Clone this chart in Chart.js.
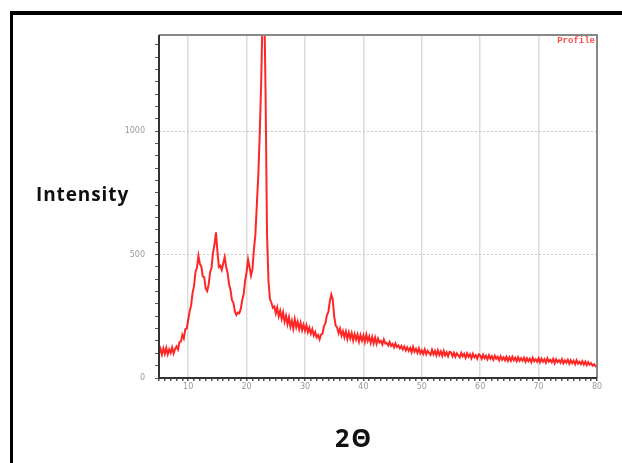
<!DOCTYPE html>
<html>
<head>
<meta charset="utf-8">
<script src="https://cdn.jsdelivr.net/npm/chart.js@4/dist/chart.umd.min.js"></script>
<style>
  html, body { margin: 0; padding: 0; background: #fff; }
  #wrap { position: relative; width: 622px; height: 463px; overflow: hidden; }
  #frame { position: absolute; left: 10px; top: 11px; width: 640px; height: 500px;
           border-left: 3px solid #000; border-top: 4px solid #000; }
  #chart { position: absolute; left: 0; top: 0; }
  .lbl { position: absolute; font-family: "Open Sans", sans-serif; font-weight: 700; color: #111; }
  #ylab { left: 36px; top: 181px; font-size: 19px; letter-spacing: 0.9px; }
  #xlab { left: 335px; top: 420px; font-size: 25px; letter-spacing: 2px; }
</style>
</head>
<body>
<div id="wrap">
  <div id="frame"></div>
  <canvas id="chart" width="622" height="463"></canvas>
  <div class="lbl" id="ylab">Intensity</div>
  <div class="lbl" id="xlab">2Θ</div>
</div>
<script>
// XRD profile, 2-theta sampled every 0.25 deg from 5 to 80
const angleStart = 5;
const angleStep = 0.25;
const seriesName = 'Profile';
const xTickLabels = [10, 20, 30, 40, 50, 60, 70, 80];
const yTickLabels = [0, 500, 1000];

const intensity = [
  // 5.00 - 9.75
  100, 118, 95, 120, 98, 122, 96, 116, 102, 124, 100, 118, 128, 115, 145, 148, 175, 160, 198, 200,
  // 10.00 - 14.75
  235, 270, 295, 345, 372, 430, 448, 495, 462, 452, 412, 408, 362, 352, 378, 428, 448, 508, 540, 590,
  // 15.00 - 19.75
  515, 450, 455, 438, 465, 490, 450, 425, 380, 356, 315, 305, 270, 255, 265, 262, 280, 315, 340, 395,
  // 20.00 - 24.75
  430, 480, 450, 415, 440, 520, 580, 700, 820, 990, 1200, 1500, 1560, 1150, 580, 390, 320, 305, 285, 290,
  // 25.00 - 29.75
  262, 285, 250, 272, 240, 266, 228, 252, 218, 246, 208, 232, 200, 238, 206, 228, 198, 224, 194, 216,
  // 30.00 - 34.75
  192, 214, 186, 204, 180, 198, 172, 186, 165, 174, 156, 176, 180, 210, 222, 255, 268, 310, 338, 318,
  // 35.00 - 39.75
  250, 212, 205, 182, 200, 172, 190, 165, 188, 158, 184, 160, 182, 152, 178, 156, 176, 148, 174, 152,
  // 40.00 - 44.75
  172, 146, 176, 150, 168, 142, 166, 140, 164, 138, 160, 144, 150, 136, 156, 140, 142, 132, 146, 130,
  // 45.00 - 49.75
  138, 124, 140, 126, 132, 120, 130, 116, 128, 112, 124, 110, 122, 104, 126, 106, 118, 102, 120, 100,
  // 50.00 - 54.75
  112, 98, 116, 96, 110, 102, 94, 114, 96, 110, 92, 112, 94, 108, 90, 110, 92, 104, 88, 106,
  // 55.00 - 59.75
  104, 88, 102, 86, 100, 92, 84, 102, 88, 98, 82, 100, 86, 96, 80, 98, 84, 92, 78, 96,
  // 60.00 - 64.75
  92, 78, 94, 80, 90, 76, 92, 78, 88, 74, 90, 78, 86, 72, 88, 74, 84, 72, 86, 70,
  // 65.00 - 69.75
  84, 70, 86, 72, 82, 68, 84, 70, 80, 70, 82, 66, 80, 68, 78, 64, 82, 68, 76, 66,
  // 70.00 - 74.75
  80, 64, 78, 66, 76, 62, 80, 66, 74, 64, 78, 60, 76, 64, 72, 62, 76, 60, 72, 62,
  // 75.00 - 79.75
  74, 58, 72, 60, 70, 56, 72, 58, 66, 56, 68, 54, 66, 52, 64, 54, 60, 50, 56, 48,
  // 80.00
  44
];

const points = intensity.map((v, i) => ({ x: angleStart + i * angleStep, y: v }));

// plot frame: grey top/right, dark left/bottom axes
const framePlugin = {
  id: 'frame',
  afterDraw(chart) {
    const { ctx, chartArea: a } = chart;
    ctx.save();
    ctx.lineWidth = 2;
    ctx.strokeStyle = '#888';
    ctx.beginPath();
    ctx.moveTo(a.left, a.top);
    ctx.lineTo(a.right, a.top);
    ctx.lineTo(a.right, a.bottom);
    ctx.stroke();
    ctx.strokeStyle = '#333';
    ctx.beginPath();
    ctx.moveTo(a.left, a.top);
    ctx.lineTo(a.left, a.bottom);
    ctx.lineTo(a.right, a.bottom);
    ctx.stroke();
    // legend tag
    ctx.fillStyle = '#ff4a4a';
    ctx.font = 'bold 9px "Liberation Mono", monospace';
    ctx.textAlign = 'right';
    ctx.textBaseline = 'middle';
    ctx.fillText(seriesName, a.right - 2, a.top + 6);
    ctx.restore();
  }
};

const tickFont = { family: '"DejaVu Sans", sans-serif', size: 8 };

new Chart(document.getElementById('chart'), {
  type: 'line',
  data: {
    datasets: [{
      label: seriesName,
      data: points,
      borderColor: 'rgba(255, 0, 0, 0.85)',
      borderWidth: 2,
      pointRadius: 0,
      tension: 0
    }]
  },
  options: {
    responsive: false,
    animation: false,
    layout: { padding: { left: 0, top: 35, right: 25, bottom: 65 } },
    plugins: { legend: { display: false }, tooltip: { enabled: false } },
    scales: {
      x: {
        type: 'linear',
        min: 5,
        max: 80,
        afterFit(scale) { scale.height = 20; },
        afterBuildTicks(scale) {
          const t = [];
          for (let v = 5; v <= 80; v++) t.push({ value: v });
          scale.ticks = t;
        },
        ticks: {
          autoSkip: false,
          maxRotation: 0,
          padding: 1,
          color: '#999',
          font: tickFont,
          callback: v => xTickLabels.includes(v) ? String(v) : ''
        },
        grid: {
          tickLength: 3,
          lineWidth: 1.5,
          color: c => (c.tick && xTickLabels.includes(c.tick.value) && c.tick.value < 80) ? '#dcdcdc' : 'rgba(0,0,0,0)',
          tickColor: '#555'
        },
        border: { display: false }
      },
      y: {
        min: 0,
        max: 1390,
        afterFit(scale) { scale.width = 159; },
        afterBuildTicks(scale) {
          const t = [];
          for (let v = 0; v <= 1350; v += 50) t.push({ value: v });
          scale.ticks = t;
        },
        ticks: {
          autoSkip: false,
          padding: 10,
          color: '#999',
          font: tickFont,
          callback: v => yTickLabels.includes(v) ? String(v) : ''
        },
        grid: {
          tickLength: 4,
          lineWidth: 1,
          color: c => (c.tick && c.tick.value > 0 && yTickLabels.includes(c.tick.value)) ? '#c8c8c8' : 'rgba(0,0,0,0)',
          tickColor: '#555'
        },
        border: { display: false, dash: [2, 2] }
      }
    }
  },
  plugins: [framePlugin]
});
</script>
</body>
</html>
